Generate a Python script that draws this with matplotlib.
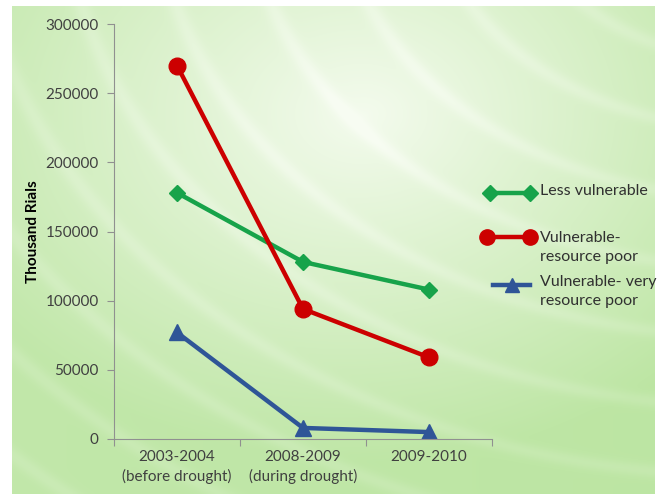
import numpy as np
import matplotlib
matplotlib.use("Agg")
import matplotlib.pyplot as plt
from matplotlib.lines import Line2D

categories = ["2003-2004\n(before drought)", "2008-2009\n(during drought)", "2009-2010"]
less_vulnerable = [178000, 128000, 108000]
vulnerable_poor = [270000, 94000, 59000]
vulnerable_very_poor = [77000, 8000, 5000]
series_labels = ["Less vulnerable", "Vulnerable-\nresource poor", "Vulnerable- very\nresource poor"]
colors = ['#17A34A', '#CC0000', '#2F5597']

plt.rcParams['font.family'] = ['Lato', 'DejaVu Sans']

W, H = 662, 500
fig = plt.figure(figsize=(6.62, 5.0), dpi=100)

# background gradient
bg = fig.add_axes([12/W, 6/H, 643/W, 488/H], zorder=-10)
h, w = 250, 320
yy, xx = np.mgrid[0:1:h*1j, 0:1:w*1j]
base = np.array([0.74, 0.90, 0.64])
white = np.array([0.97, 0.99, 0.95])
r1 = np.sqrt((xx-0.55)**2 + (yy-0.22)**2)
t = np.clip(1 - r1*1.4, 0, 1)
rr = np.sqrt((xx-1.15)**2 + (yy+0.25)**2)
s = np.exp(-((np.mod(rr*7, 1) - 0.5)**2)/0.01)
t = np.clip(t*0.9 + 0.15*s + 0.08*(1-xx), 0, 1)
img = base[None, None, :]*(1-t[..., None]) + white[None, None, :]*t[..., None]
bg.imshow(img, aspect='auto', extent=[0, 1, 1, 0], interpolation='bilinear')
bg.set_axis_off()

ax = fig.add_axes([114/W, 1-439/H, (492-114)/W, (439-24)/H])
ax.patch.set_alpha(0)
x = np.arange(len(categories))
ax.plot(x, less_vulnerable, color=colors[0], lw=3.2, marker='D', ms=8)
ax.plot(x, vulnerable_poor, color=colors[1], lw=3.2, marker='o', ms=12)
ax.plot(x, vulnerable_very_poor, color=colors[2], lw=3.2, marker='^', ms=12)

ax.set_ylim(0, 300000)
ax.set_xlim(-0.5, 2.5)
ax.set_yticks(np.arange(0, 300001, 50000))
ax.set_yticklabels([str(v) for v in range(0, 300001, 50000)], fontsize=11, color='#404040')
ax.set_xticks([-0.5, 0.5, 1.5, 2.5])
ax.set_xticklabels([])
ax.set_xticks(x, minor=True)
ax.set_xticklabels(categories, minor=True, fontsize=11, color='#404040', linespacing=1.4)
ax.tick_params(axis='x', which='minor', length=0, pad=8)
ax.tick_params(axis='x', which='major', length=5, color='#909090', direction='out')
ax.tick_params(axis='y', length=5, color='#909090', pad=6)
for sp in ['top', 'right']:
    ax.spines[sp].set_visible(False)
for sp in ['left', 'bottom']:
    ax.spines[sp].set_color('#909090')
ax.set_ylabel("Thousand Rials", fontsize=11, fontweight='bold', labelpad=4)

# manual legend (Excel style)
def fx(px):
    return px / W

def fy(py):
    return 1 - py / H

legend_specs = [
    # x0, x1, line y, marker, size, marker indices, text top y
    (490, 530, 193, 'D', 8, [0, 2], 184),
    (487, 530, 237, 'o', 11, [0, 2], 231),
    (493, 530, 285, '^', 10, [1], 275),
]
for (x0, x1, yl, mk, ms, mev, yt), lab, c in zip(legend_specs, series_labels, colors):
    ln = Line2D([fx(x0), fx((x0 + x1) / 2), fx(x1)], [fy(yl)] * 3, transform=fig.transFigure,
                color=c, lw=3.2, marker=mk, ms=ms, markevery=mev)
    fig.add_artist(ln)
    fig.text(fx(540), fy(yt), lab, fontsize=11.5, color='#303030', va='top', ha='left',
             linespacing=1.45)

fig.savefig("out.png", dpi=100)
